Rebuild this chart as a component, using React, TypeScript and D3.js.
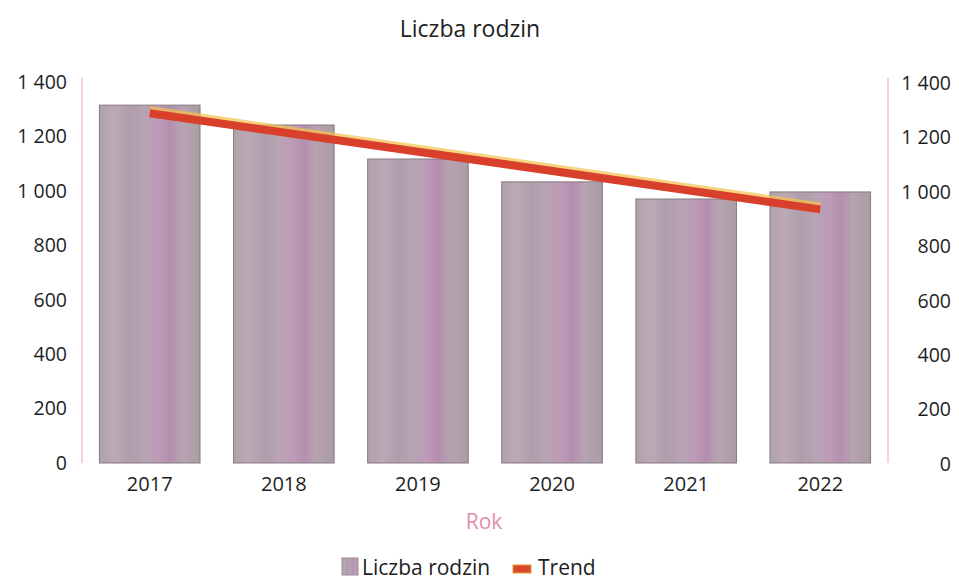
import { useRef, useEffect } from "react";
import * as d3 from "d3";

const years = ["2017", "2018", "2019", "2020", "2021", "2022"];
const families = [1315, 1242, 1117, 1033, 970, 996];
// trend line end points (2017 -> 2022)
const trendYears = ["2017", "2022"];
const trendValues = [1285, 932];
const yTicks = [0, 200, 400, 600, 800, 1000, 1200, 1400];

const W = 959;
const H = 582;
const FONT = "'Open Sans', 'Noto Sans', sans-serif";

export default function App() {
  const svgRef = useRef<SVGSVGElement>(null);

  useEffect(() => {
    if (!svgRef.current) return;
    const svg = d3.select(svgRef.current);
    svg.selectAll("*").remove();

    const margin = { top: 82, right: 71, bottom: 119, left: 82 };
    const innerW = W - margin.left - margin.right;
    const innerH = H - margin.top - margin.bottom;

    const fmt = d3.formatLocale({ decimal: ",", thousands: " ", grouping: [3], currency: ["", " zł"] }).format(",d");

    const x = d3.scaleBand().domain(years).range([0, innerW]).paddingInner(0.25).paddingOuter(0.13);
    const y = d3.scaleLinear().domain([0, 1400]).range([innerH, 0]);

    // bar texture: scanned mauve with a pinkish streak
    const defs = svg.append("defs");
    const grad = defs.append("linearGradient").attr("id", "barFill").attr("x1", "0").attr("x2", "1").attr("y1", "0").attr("y2", "0");
    const stops: [number, string][] = [
      [0, "#b0a2ac"], [0.15, "#bba9b6"], [0.3, "#ae9eab"], [0.45, "#b8a3b3"],
      [0.6, "#bd9ab7"], [0.7, "#b48eae"], [0.82, "#b7a3b1"], [1, "#aa9ca5"],
    ];
    stops.forEach(([o, c]) => grad.append("stop").attr("offset", o).attr("stop-color", c));

    // title
    svg.append("text")
      .attr("x", 470).attr("y", 37)
      .attr("text-anchor", "middle")
      .attr("font-family", FONT).attr("font-size", "23px").attr("fill", "#1e1e1e")
      .text("Liczba rodzin");

    const g = svg.append("g").attr("transform", `translate(${margin.left},${margin.top})`);

    // side axis lines
    [0, innerW].forEach((lx) => {
      g.append("line")
        .attr("x1", lx).attr("x2", lx)
        .attr("y1", -4).attr("y2", innerH)
        .attr("stroke", "#efb3cb").attr("stroke-width", 1.2);
    });

    // bars
    g.selectAll(".bar")
      .data(families)
      .enter()
      .append("rect")
      .attr("class", "bar")
      .attr("x", (_, i) => x(years[i]) as number)
      .attr("width", x.bandwidth())
      .attr("y", (d) => y(d))
      .attr("height", (d) => innerH - y(d))
      .attr("fill", "url(#barFill)")
      .attr("stroke", "#857a82")
      .attr("stroke-width", 1);

    // trend line
    const line = d3.line<number>()
      .x((_, i) => (x(trendYears[i]) as number) + x.bandwidth() / 2)
      .y((d) => y(d));
    g.append("path")
      .datum(trendValues)
      .attr("d", line)
      .attr("fill", "none")
      .attr("stroke", "#f3c24a")
      .attr("stroke-width", 10)
      .attr("transform", "translate(0,-2)")
      .attr("opacity", 0.7);
    g.append("path")
      .datum(trendValues)
      .attr("d", line)
      .attr("fill", "none")
      .attr("stroke", "#d9402c")
      .attr("stroke-width", 8);

    // left y labels
    g.selectAll(".yl")
      .data(yTicks)
      .enter()
      .append("text")
      .attr("x", -15).attr("y", (d) => y(d))
      .attr("dy", "0.35em")
      .attr("text-anchor", "end")
      .attr("font-family", FONT).attr("font-size", "19.5px").attr("fill", "#1e1e1e")
      .text((d) => fmt(d));

    // right y labels
    g.selectAll(".yr")
      .data(yTicks)
      .enter()
      .append("text")
      .attr("x", innerW + 63).attr("y", (d) => y(d) + 1)
      .attr("dy", "0.35em")
      .attr("text-anchor", "end")
      .attr("font-family", FONT).attr("font-size", "19.5px").attr("fill", "#1e1e1e")
      .text((d) => fmt(d));

    // x labels
    g.selectAll(".xl")
      .data(years)
      .enter()
      .append("text")
      .attr("x", (d) => (x(d) as number) + x.bandwidth() / 2)
      .attr("y", innerH + 28)
      .attr("text-anchor", "middle")
      .attr("font-family", FONT).attr("font-size", "20px").attr("fill", "#1e1e1e")
      .text((d) => d);

    // x axis title
    svg.append("text")
      .attr("x", 484).attr("y", 529)
      .attr("text-anchor", "middle")
      .attr("font-family", FONT).attr("font-size", "21px").attr("fill", "#e58cab")
      .text("Rok");

    // legend
    const lg = svg.append("g").attr("transform", "translate(342,569)");
    lg.append("rect").attr("x", 0).attr("y", -11).attr("width", 16).attr("height", 17)
      .attr("fill", "url(#barFill)").attr("stroke", "#9a8c96");
    lg.append("text").attr("x", 20).attr("y", 6)
      .attr("font-family", FONT).attr("font-size", "21px").attr("fill", "#1e1e1e")
      .text("Liczba rodzin");
    lg.append("rect").attr("x", 171).attr("y", -4).attr("width", 18).attr("height", 8)
      .attr("fill", "#d9482c").attr("stroke", "#e39a3a").attr("stroke-width", 1);
    lg.append("text").attr("x", 196).attr("y", 6)
      .attr("font-family", FONT).attr("font-size", "21px").attr("fill", "#1e1e1e")
      .text("Trend");
  }, []);

  return (
    <svg
      ref={svgRef}
      width={W}
      height={H}
      style={{ position: "absolute", left: 0, top: 0, background: "#fff" }}
    />
  );
}
